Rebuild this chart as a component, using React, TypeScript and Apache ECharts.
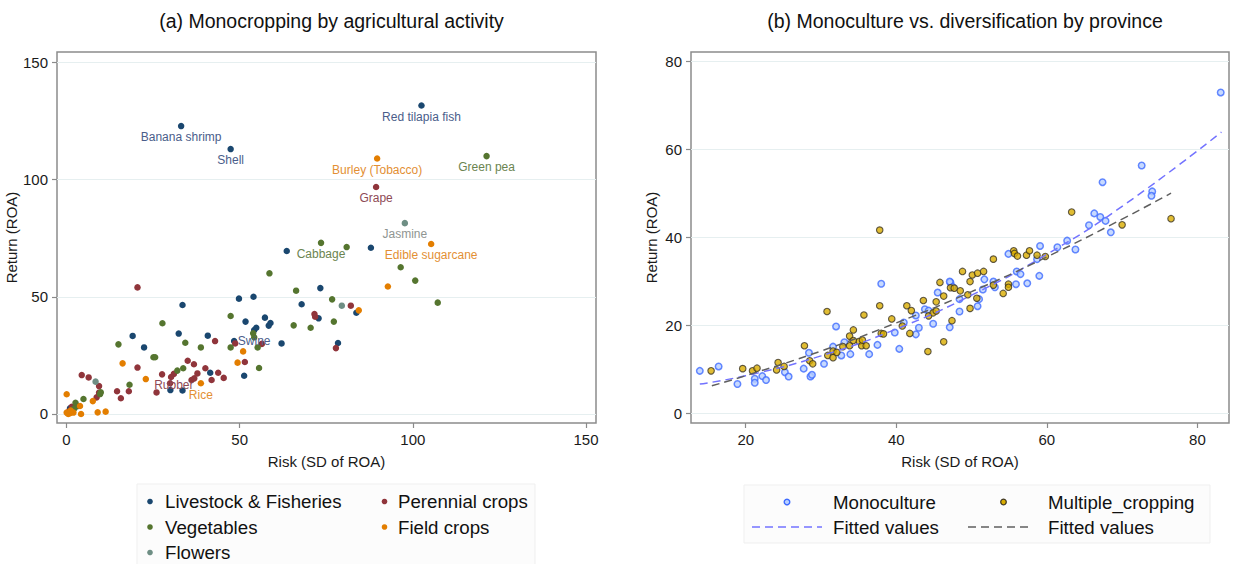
import React, { useEffect, useRef } from 'react';
import * as echarts from 'echarts';

const FONT = '"Liberation Sans", Arial, Helvetica, sans-serif';

const leftTitle = '(a) Monocropping by agricultural activity';
const rightTitle = '(b) Monoculture vs. diversification by province';
const xAxisName = 'Risk (SD of ROA)';
const yAxisName = 'Return (ROA)';

const leftXTicks = [0, 50, 100, 150];
const leftYTicks = [0, 50, 100, 150];
const rightXTicks = [20, 40, 60, 80];
const rightYTicks = [0, 20, 40, 60, 80];

const categories = ['Livestock & Fisheries', 'Perennial crops', 'Vegetables', 'Field crops', 'Flowers'];
const catColors = ['#1a476f', '#90353b', '#55752f', '#e37e00', '#6e8e84'];
const catLabelColors = ['#4a5d8a', '#8e4a55', '#6b8450', '#e38f34', '#8f9592'];

type P = [number, number, string?];

const livestock: P[] = [
  [33.1, 122.8, 'Banana shrimp'], [47.4, 113.0, 'Shell'], [102.5, 131.6, 'Red tilapia fish'], [54.2, 35.8, 'Swine'],
  [87.9, 70.9], [73.3, 53.7], [67.9, 46.8], [83.7, 43.2], [72.8, 40.8], [78.4, 30.3], [63.6, 69.5],
  [33.5, 46.5], [49.8, 49.2], [54.0, 50.0], [51.7, 39.4], [57.3, 41.1], [58.9, 38.8], [58.4, 37.7],
  [54.8, 36.8], [62.1, 30.1], [48.4, 31.1], [51.3, 16.3], [40.8, 33.4], [32.4, 34.3], [19.1, 33.3],
  [22.4, 28.4], [30.0, 10.2], [33.5, 10.0], [41.5, 17.6], [1.0, 2.4], [1.5, 1.5], [2.5, 3.0],
];
const perennial: P[] = [
  [89.4, 96.8, 'Grape'], [31.0, 17.1, 'Rubber'],
  [82.1, 46.2], [71.6, 42.6], [71.8, 41.5], [77.8, 28.1], [20.5, 54.0], [56.4, 29.9], [48.7, 30.1],
  [51.5, 22.2], [42.9, 31.1], [20.5, 19.8], [14.6, 9.7], [15.7, 6.7], [18.0, 9.7], [26.0, 9.2],
  [27.6, 16.9], [29.9, 13.1], [30.2, 15.8], [35.0, 22.7], [36.8, 21.2], [36.1, 14.5], [36.9, 15.2],
  [37.8, 17.3], [40.1, 19.5], [41.9, 14.5], [43.8, 17.6], [45.4, 15.4], [4.4, 16.6], [6.4, 15.6],
  [9.4, 11.9], [9.4, 9.1], [8.7, 7.1], [1.5, 3.1], [0.8, 1.2],
];
const vegetables: P[] = [
  [121.3, 110.0, 'Green pea'], [73.5, 73.0, 'Cabbage'],
  [80.9, 71.2], [96.5, 62.6], [100.7, 56.9], [76.7, 48.9], [107.2, 47.5], [70.5, 36.8], [77.2, 39.4],
  [58.6, 60.0], [66.3, 52.6], [47.4, 41.8], [65.6, 37.8], [53.9, 34.4], [54.2, 32.7], [55.2, 28.4],
  [47.4, 28.4], [55.6, 19.6], [38.8, 28.4], [34.3, 30.4], [27.7, 38.7], [15.0, 29.7], [25.1, 24.2],
  [25.6, 24.2], [18.2, 12.5], [32.0, 18.5], [33.7, 19.5], [9.7, 8.5], [4.9, 6.4], [2.6, 4.8],
  [3.4, 3.4], [2.3, 2.4], [1.5, 1.7], [9.9, 9.3],
];
const fieldCrops: P[] = [
  [89.7, 109.0, 'Burley (Tobacco)'], [105.3, 72.5, 'Edible sugarcane'], [38.8, 13.1, 'Rice'],
  [92.8, 54.4], [84.4, 44.2], [51.0, 26.7], [49.4, 21.9], [16.2, 21.6], [22.9, 14.9], [0.05, 8.4],
  [7.6, 5.5], [3.9, 3.4], [0.05, 0.6], [1.0, 0.3], [2.0, 0.6], [4.2, 0.0], [9.0, 0.7], [11.3, 1.0],
  [0.5, 0.0], [1.2, 1.5],
];
const flowers: P[] = [[97.7, 81.4, 'Jasmine'], [79.5, 46.2], [8.4, 13.8]];

const leftSets = [livestock, perennial, vegetables, fieldCrops, flowers];

const monoName = 'Monoculture';
const multiName = 'Multiple_cropping';
const fitName = 'Fitted values';

const monoculture: [number, number][] = [
  [13.9, 9.7], [16.4, 10.7], [18.9, 6.7], [21.2, 7.9], [21.2, 7.0], [22.2, 8.5], [22.7, 7.6], [25.2, 9.4],
  [25.7, 8.4], [27.7, 10.2], [28.6, 8.4], [28.8, 8.8], [28.4, 13.8], [30.4, 11.3], [32.0, 19.8], [31.6, 15.2],
  [32.7, 13.2], [33.1, 16.2], [33.9, 13.5], [36.4, 13.5], [37.5, 15.6], [38.0, 29.5], [39.8, 18.4], [40.4, 14.7],
  [41.0, 20.7], [42.6, 22.3], [43.0, 19.5], [42.6, 18.0], [43.8, 23.7], [44.3, 23.4], [44.9, 20.4], [45.5, 27.5],
  [47.1, 19.6], [47.2, 29.8], [48.4, 23.2], [48.4, 26.0], [47.1, 30.0], [47.5, 28.8], [50.8, 24.4], [51.0, 26.0],
  [51.5, 28.2], [51.7, 30.5], [52.9, 30.0], [53.1, 28.7], [55.9, 29.4], [57.4, 29.6], [56.0, 32.3], [56.5, 31.7],
  [59.0, 31.3], [58.7, 35.1], [54.9, 36.3], [59.1, 38.1], [61.4, 37.8], [62.7, 39.3], [63.8, 37.3], [65.6, 42.8],
  [66.3, 45.5], [67.1, 44.7], [67.8, 43.8], [68.5, 41.2], [67.4, 52.6], [72.6, 56.4], [74.0, 50.5], [73.9, 49.5],
  [83.1, 73.0],
];
const multipleCropping: [number, number][] = [
  [15.4, 9.7], [19.6, 10.2], [20.9, 9.7], [21.5, 10.3], [24.1, 9.9], [24.3, 11.6], [25.1, 10.7], [27.8, 15.4],
  [28.5, 12.0], [28.9, 11.3], [30.8, 23.2], [30.9, 13.2], [31.6, 12.7], [31.6, 14.2], [32.1, 13.9], [32.9, 15.2],
  [33.8, 17.6], [33.8, 15.4], [34.3, 19.0], [34.3, 16.6], [35.1, 16.4], [35.4, 15.4], [35.5, 16.7], [36.0, 15.4],
  [35.7, 22.4], [37.8, 24.5], [38.0, 18.2], [38.3, 18.1], [37.8, 41.7], [39.4, 21.5], [40.8, 19.9], [41.4, 24.5],
  [41.8, 18.2], [42.0, 23.4], [43.6, 25.7], [44.2, 14.1], [44.3, 22.2], [44.9, 22.9], [45.3, 23.3], [45.3, 25.4],
  [45.8, 29.8], [46.3, 26.7], [46.3, 16.3], [47.2, 28.6], [47.4, 21.1], [47.7, 28.5], [48.5, 27.9], [48.8, 32.3],
  [49.5, 27.0], [49.8, 30.0], [49.8, 23.9], [50.1, 31.5], [50.7, 26.2], [50.8, 31.9], [51.6, 32.3], [52.9, 35.1],
  [52.9, 29.2], [54.2, 27.3], [54.9, 29.4], [54.9, 28.7], [55.6, 37.0], [55.7, 36.4], [56.1, 35.8], [57.3, 36.0],
  [57.7, 37.0], [58.7, 36.0], [59.8, 35.7], [63.3, 45.8], [70.0, 42.9], [76.5, 44.3],
];
const fitMono: [number, number][] = [
  [13.9, 6.7], [20, 8.6], [30, 13.1], [40, 19.2], [50, 26.9], [60, 36.2], [70, 47.1], [83.2, 64.0],
];
const fitMulti: [number, number][] = [
  [15.5, 6.3], [20, 8.6], [30, 14.2], [40, 20.6], [50, 27.7], [60, 35.6], [70, 44.2], [76.5, 50.1],
];

const monoColor = '#3f6cff';
const monoFill = '#b9d0ff';
const multiFill = '#d9ad00';
const multiBorder = '#3b3320';
const fitMonoColor = '#7373ff';
const fitMultiColor = '#5f5f5f';

function axis(gridIndex: number, min: number, max: number, ticks: number[], isY: boolean, nameGap: number) {
  return {
    type: 'value',
    gridIndex,
    min,
    max,
    name: isY ? yAxisName : xAxisName,
    nameLocation: 'middle',
    nameGap,
    nameRotate: isY ? 90 : 0,
    nameTextStyle: { fontSize: 15, color: '#1a1a1a', fontFamily: FONT },
    axisLine: { show: false, onZero: false },
    axisTick: { show: true, customValues: ticks, length: 5, lineStyle: { color: '#8a8a8a', width: 1.2 } },
    axisLabel: { customValues: ticks, fontSize: 15, color: '#1a1a1a', margin: 9, fontFamily: FONT },
    splitLine: { show: isY, lineStyle: { color: '#e6eff0', width: 1 } },
  };
}

export default function App() {
  const ref = useRef<HTMLDivElement>(null);
  useEffect(() => {
    if (!ref.current) return;
    const chart = echarts.init(ref.current, null, { renderer: 'svg' });

    const leftSeries = leftSets.map((set, i) => ({
      type: 'scatter',
      name: categories[i],
      xAxisIndex: 0,
      yAxisIndex: 0,
      symbolSize: 6.5,
      itemStyle: { color: catColors[i], opacity: 1 },
      label: {
        show: false,
        position: 'bottom',
        distance: 2,
        fontSize: 12,
        fontFamily: FONT,
        color: catLabelColors[i],
        formatter: '{b}',
      },
      data: set.map(([x, y, lab]) =>
        lab ? { value: [x, y], name: lab, label: { show: true } } : { value: [x, y] }
      ),
    }));

    const LF = 18.7;
    const legendGraphics: any[] = [];
    legendGraphics.push({
      type: 'rect', shape: { x: 137, y: 484, width: 398, height: 90 },
      style: { fill: '#fcfcfc', stroke: '#efefef', lineWidth: 1 }, silent: true, z: 0,
    });
    const colX = [150, 384.5];
    const textX = [165, 398];
    const rowY = [501.5, 527, 552.5];
    categories.forEach((c, i) => {
      const col = i % 2;
      const row = Math.floor(i / 2);
      legendGraphics.push({
        type: 'circle', shape: { cx: colX[col], cy: rowY[row], r: 2.8 },
        style: { fill: catColors[i] }, z: 2,
      });
      legendGraphics.push({
        type: 'text', x: textX[col], y: rowY[row],
        style: { text: c, fontSize: LF, fontFamily: FONT, fill: '#111', verticalAlign: 'middle', align: 'left' }, z: 2,
      });
    });
    // right legend
    legendGraphics.push({
      type: 'rect', shape: { x: 744, y: 485, width: 466, height: 58 },
      style: { fill: '#fcfcfc', stroke: '#efefef', lineWidth: 1 }, silent: true, z: 0,
    });
    legendGraphics.push({
      type: 'circle', shape: { cx: 787, cy: 502, r: 2.8 },
      style: { fill: monoFill, stroke: monoColor, lineWidth: 1.4 }, z: 2,
    });
    legendGraphics.push({
      type: 'text', x: 833, y: 502,
      style: { text: monoName, fontSize: LF, fontFamily: FONT, fill: '#111', verticalAlign: 'middle' }, z: 2,
    });
    legendGraphics.push({
      type: 'circle', shape: { cx: 1003.5, cy: 502, r: 2.8 },
      style: { fill: multiFill, stroke: multiBorder, lineWidth: 1.2 }, z: 2,
    });
    legendGraphics.push({
      type: 'text', x: 1048, y: 502,
      style: { text: multiName, fontSize: LF, fontFamily: FONT, fill: '#111', verticalAlign: 'middle' }, z: 2,
    });
    legendGraphics.push({
      type: 'line', shape: { x1: 752, y1: 527, x2: 822, y2: 527 },
      style: { stroke: fitMonoColor, lineWidth: 1.5, lineDash: [8, 5] }, z: 2,
    });
    legendGraphics.push({
      type: 'text', x: 833, y: 527,
      style: { text: fitName, fontSize: LF, fontFamily: FONT, fill: '#111', verticalAlign: 'middle' }, z: 2,
    });
    legendGraphics.push({
      type: 'line', shape: { x1: 968, y1: 527, x2: 1028, y2: 527 },
      style: { stroke: fitMultiColor, lineWidth: 1.5, lineDash: [8, 5] }, z: 2,
    });
    legendGraphics.push({
      type: 'text', x: 1048, y: 527,
      style: { text: fitName, fontSize: LF, fontFamily: FONT, fill: '#111', verticalAlign: 'middle' }, z: 2,
    });

    chart.setOption({
      animation: false,
      backgroundColor: '#ffffff',
      textStyle: { fontFamily: FONT },
      title: [
        { text: leftTitle, left: 326.5, top: 6, textAlign: 'center',
          textStyle: { fontSize: 19.5, fontWeight: 'normal', color: '#111', fontFamily: FONT } },
        { text: rightTitle, left: 960, top: 6, textAlign: 'center',
          textStyle: { fontSize: 19.5, fontWeight: 'normal', color: '#111', fontFamily: FONT } },
      ],
      grid: [
        { left: 57, top: 52, width: 539, height: 371, show: true, borderColor: '#8c8c8c', borderWidth: 1.5, backgroundColor: 'transparent' },
        { left: 691, top: 52, width: 538, height: 371, show: true, borderColor: '#8c8c8c', borderWidth: 1.5, backgroundColor: 'transparent' },
      ],
      xAxis: [
        axis(0, -2.743, 152.9, leftXTicks, false, 31),
        axis(1, 12.73, 84.2, rightXTicks, false, 31),
      ],
      yAxis: [
        axis(0, -3.84, 154.4, leftYTicks, true, 31),
        axis(1, -2.16, 82.2, rightYTicks, true, 32),
      ],
      series: [
        ...leftSeries,
        {
          type: 'scatter', name: monoName, xAxisIndex: 1, yAxisIndex: 1, symbolSize: 6.5,
          itemStyle: { color: monoFill, borderColor: monoColor, borderWidth: 1.5 },
          data: monoculture,
        },
        {
          type: 'scatter', name: multiName, xAxisIndex: 1, yAxisIndex: 1, symbolSize: 6.5,
          itemStyle: { color: multiFill, borderColor: multiBorder, borderWidth: 1.1 },
          data: multipleCropping,
        },
        {
          type: 'line', name: fitName, xAxisIndex: 1, yAxisIndex: 1, smooth: true, showSymbol: false,
          lineStyle: { color: fitMonoColor, width: 1.5, type: [8, 5] }, data: fitMono, z: 3,
        },
        {
          type: 'line', name: fitName + ' ', xAxisIndex: 1, yAxisIndex: 1, smooth: true, showSymbol: false,
          lineStyle: { color: fitMultiColor, width: 1.5, type: [8, 5] }, data: fitMulti, z: 3,
        },
      ],
      graphic: legendGraphics,
    });
    return () => chart.dispose();
  }, []);
  return <div ref={ref} style={{ position: 'fixed', left: 0, top: 0, width: 1235, height: 564 }} />;
}
